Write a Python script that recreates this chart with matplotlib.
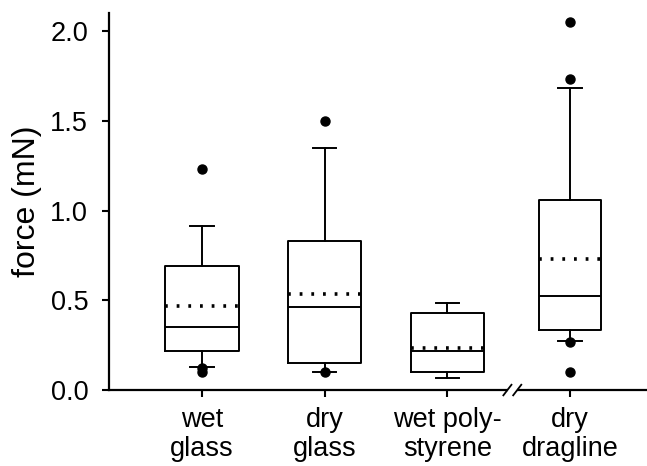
import matplotlib
matplotlib.use("Agg")
import matplotlib.pyplot as plt
from matplotlib.transforms import blended_transform_factory

plt.rcParams['font.family'] = ['Liberation Sans', 'DejaVu Sans']
plt.rcParams['lines.scale_dashes'] = False

# box statistics (mN)
labels = ['wet\nglass', 'dry\nglass', 'wet poly-\nstyrene', 'dry\ndragline']
q1 = [0.217, 0.149, 0.099, 0.334]
medians = [0.353, 0.464, 0.219, 0.526]
q3 = [0.691, 0.832, 0.427, 1.059]
means = [0.468, 0.537, 0.236, 0.728]
whis_lo = [0.126, 0.102, 0.069, 0.275]
whis_hi = [0.914, 1.351, 0.487, 1.682]
fliers = [[1.230, 0.123, 0.102], [1.501, 0.102], [], [2.053, 1.734, 0.269, 0.102]]

positions = [1, 2, 3, 4]
widths = [0.6, 0.6, 0.6, 0.5]

stats = []
for i in range(len(labels)):
    stats.append(dict(q1=q1[i], med=medians[i], q3=q3[i], mean=means[i],
                      whislo=whis_lo[i], whishi=whis_hi[i], fliers=fliers[i]))

fig = plt.figure(figsize=(6.47, 4.66), dpi=100)
ax = fig.add_axes([0.1685, 0.163, 0.8315, 0.809])

lw = 1.4
ax.bxp(stats, positions=positions, widths=widths, capwidths=0.19,
       showmeans=True, meanline=True,
       boxprops=dict(color='black', linewidth=lw),
       whiskerprops=dict(color='black', linewidth=lw),
       capprops=dict(color='black', linewidth=lw),
       medianprops=dict(color='black', linewidth=lw),
       meanprops=dict(color='black', linewidth=2.6, linestyle=(0, (2.0, 6.4)),
                      dash_capstyle='butt'),
       flierprops=dict(marker='o', markerfacecolor='black', markeredgecolor='black',
                       markersize=6.5, linestyle='none'))

ax.set_xlim(0.242, 4.628)
ax.set_ylim(0, 2.101)
ax.set_yticks([0.0, 0.5, 1.0, 1.5, 2.0])
ax.set_yticklabels(['0.0', '0.5', '1.0', '1.5', '2.0'])
ax.set_xticks(positions)
ax.set_xticklabels(labels, linespacing=1.15)

for side in ['top', 'right']:
    ax.spines[side].set_visible(False)
for side in ['left', 'bottom']:
    ax.spines[side].set_linewidth(1.6)

ax.tick_params(axis='y', direction='out', length=5, width=1.5, labelsize=19.5, pad=10)
ax.tick_params(axis='x', direction='out', length=5, width=1.5, labelsize=19.5, pad=7)
ax.set_ylabel('force (mN)', fontsize=23, labelpad=6)

# axis break between the third and fourth group
break_at = 3.53
tr = blended_transform_factory(ax.transData, ax.transAxes)
ax.plot([break_at - 0.035, break_at + 0.035], [0, 0], color='white', linewidth=3,
        transform=tr, clip_on=False, zorder=5, solid_capstyle='butt')
for dx in (-0.04, 0.04):
    ax.plot([break_at + dx - 0.033, break_at + dx + 0.033], [-0.014, 0.014],
            color='black', linewidth=1.3, transform=tr, clip_on=False, zorder=6)

fig.savefig('out.png', dpi=100)
